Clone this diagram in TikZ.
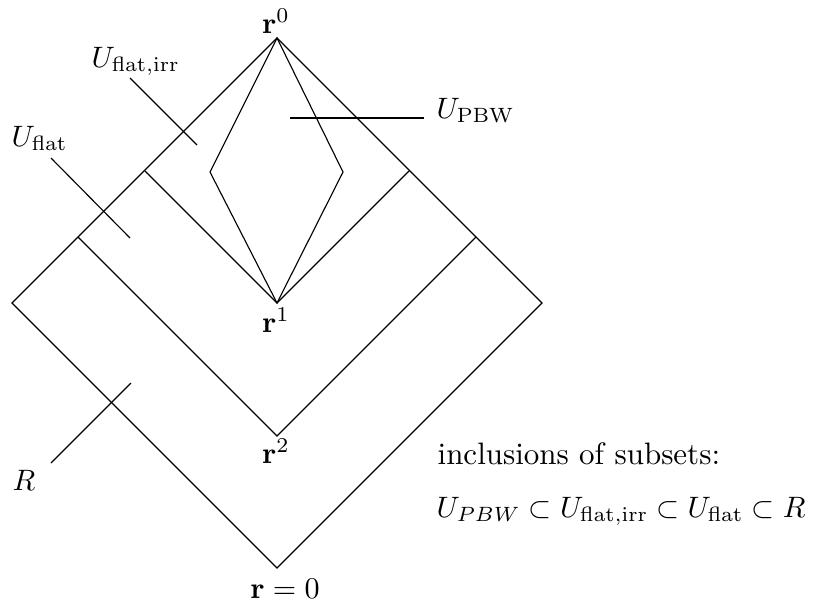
\documentclass[tikz,border=0pt]{standalone}
\usepackage{amsmath}
\begin{document}
\begin{tikzpicture}[x=0.0125cm,y=-0.0125cm,
  edge/.style={line width=0.4pt},
  leader/.style={line width=0.4pt},
  pbwleader/.style={line width=0.8pt},
  lbl/.style={inner sep=0pt,anchor=base west,scale=1.05,transform shape},
  vlbl/.style={inner sep=0pt,anchor=base,scale=1.07,transform shape}]
\useasboundingbox (0,0) rectangle (816,600);
% vertices
\coordinate (top) at (277,38);
\coordinate (left) at (12,303);
\coordinate (bot) at (277,568);
\coordinate (right) at (542,303);
\coordinate (r1) at (277,303);
\coordinate (r2) at (277,436);
\coordinate (a1l) at (145,171);
\coordinate (a1r) at (409,171);
\coordinate (a2l) at (78,237);
\coordinate (a2r) at (476,237);
\coordinate (kl) at (210,172);
\coordinate (kr) at (343,172);
% outer diamond
\draw[edge] (top) -- (left) -- (bot) -- (right) -- cycle;
% nested V's
\draw[edge] (a1l) -- (r1) -- (a1r);
\draw[edge] (a2l) -- (r2) -- (a2r);
% kite
\draw[edge] (top) -- (kl) -- (r1) -- (kr) -- cycle;
% vertex labels
\node[vlbl] (l0) at (276,33) {$\mathbf{r}^0$};
\node[vlbl] (l1) at (276,332) {$\mathbf{r}^1$};
\node[vlbl] (l2) at (276,463) {$\mathbf{r}^2$};
\node[vlbl] (lz) at (285,598) {$\mathbf{r}=0$};
% region labels
\node[lbl] (ufi) at (91,67) {$U_{\mathrm{flat,irr}}$};
\node[lbl] (uf) at (11,146) {$U_{\mathrm{flat}}$};
\node[lbl] (ur) at (12,490) {$R$};
\node[lbl] (upbw) at (436,118) {$U_{\mathrm{PBW}}$};
% leaders
\coordinate (ufiA) at (130,78);  \coordinate (ufiB) at (197,145);
\coordinate (ufA) at (51,158);   \coordinate (ufB) at (130,238);
\coordinate (urA) at (51,463);   \coordinate (urB) at (131,383);
\coordinate (upA) at (424,118);  \coordinate (upB) at (290,118);
\draw[leader] (ufiA) -- (ufiB);
\draw[leader] (ufA) -- (ufB);
\draw[leader] (urA) -- (urB);
\draw[pbwleader] (upA) -- (upB);
% inclusions text
\node[lbl,scale=1.05] (inc) at (437,464) {inclusions of subsets:};
\node[lbl] (form) at (436,517) {$U_{PBW}\subset U_{\mathrm{flat,irr}}\subset U_{\mathrm{flat}}\subset R$};
\end{tikzpicture}
\end{document}
